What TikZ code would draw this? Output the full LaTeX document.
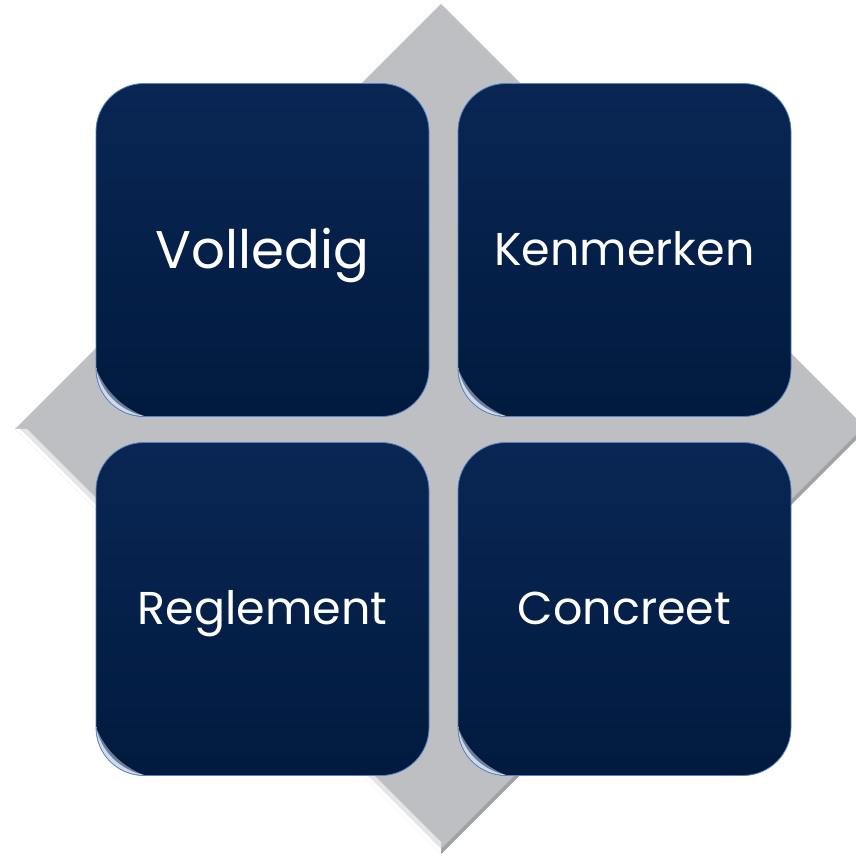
\documentclass[tikz,border=0pt]{standalone}
\usepackage{fontspec}
\setmainfont{Poppins}
\setsansfont{Poppins}
\usetikzlibrary{positioning}
\definecolor{diagray}{RGB}{190,191,194}
\definecolor{tiletop}{RGB}{9,38,84}
\definecolor{tilebot}{RGB}{1,26,62}
\definecolor{tilerim}{RGB}{86,130,190}
\definecolor{glowblue}{RGB}{215,228,245}

\begin{document}
\begin{tikzpicture}[x=1pt,y=1pt,font=\sffamily,
	tile/.style={minimum width=333pt,minimum height=333pt,outer sep=0pt,rounded corners=48pt,top color=tiletop,bottom color=tilebot,draw=tilerim,line width=0.8pt,text=white,text depth=0pt},
	glow/.style={fill=glowblue}]
	\useasboundingbox (0,0) rectangle (856,857);

	% grey diamond behind the tiles
	\coordinate (dl) at (15,428);
	\coordinate (dt) at (441,853);
	\coordinate (dr) at (867,428);
	\coordinate (db) at (441,3);
	\fill [diagray] (dl) -- (dt) -- (dr) -- (db) -- cycle;
	\fill [white!60!diagray] (dl) -- (db) -- ([yshift=12pt]db) -- ([xshift=12pt]dl) -- cycle;
	\fill [white] (dl) -- (db) -- ([yshift=5pt]db) -- ([xshift=5pt]dl) -- cycle;
	\fill [diagray!85!black] (db) -- (dr) -- ([xshift=-5pt]dr) -- ([yshift=5pt]db) -- cycle;

	\node [tile,font=\sffamily\fontsize{53}{53}\selectfont,text height=37pt] at (262.5,607) (vol) {Volledig};
	\node [tile,font=\sffamily\fontsize{46}{46}\selectfont,text height=32pt,right=29pt of vol] (ken) {Kenmerken};
	\node [tile,font=\sffamily\fontsize{46}{46}\selectfont,text height=32pt,below=26pt of vol] (reg) {Reglement};
	\node [tile,font=\sffamily\fontsize{46}{46}\selectfont,text height=32pt,below=26pt of ken] (con) {Concreet};

	% soft highlight in the lower left corners
	\foreach \t in {vol,ken,reg,con} {
		\path [glow,opacity=0.5] ([shift={(0.5pt,48pt)}]\t.south west) arc[start angle=180,end angle=270,radius=47.5pt]
			arc[start angle=249,end angle=201,radius=83.6pt] -- cycle;
		\path [glow,opacity=0.9] ([shift={(0.5pt,48pt)}]\t.south west) arc[start angle=180,end angle=270,radius=47.5pt]
			arc[start angle=258.7,end angle=191.3,radius=61.2pt] -- cycle;
	}
\end{tikzpicture}
\end{document}
